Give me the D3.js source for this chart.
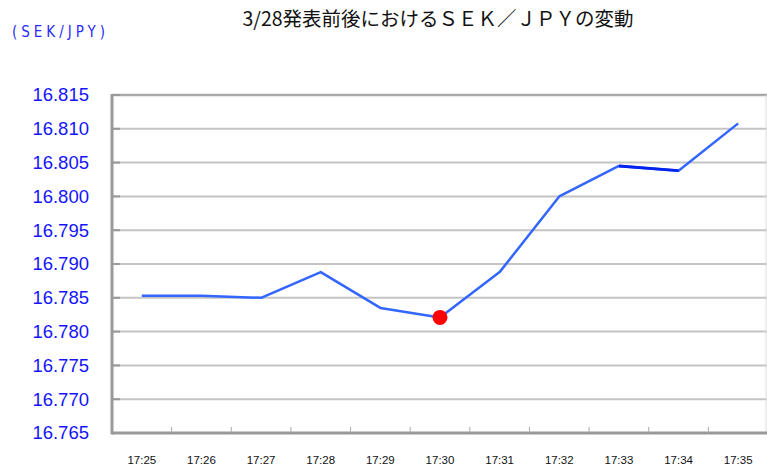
<!DOCTYPE html>
<html>
<head>
<meta charset="utf-8">
<style>
  body { margin: 0; background: #fff; }
  svg { display: block; }
</style>
<script src="https://d3js.org/d3.v7.min.js"></script>
</head>
<body>
<svg width="767" height="467"></svg>
<script>
// data
var times = ["17:25","17:26","17:27","17:28","17:29","17:30","17:31","17:32","17:33","17:34","17:35"];
var rates = [16.7853, 16.7853, 16.7850, 16.7888, 16.7835, 16.7821, 16.7888, 16.8000, 16.8045, 16.8038, 16.8108];
var yTicks = [16.765, 16.770, 16.775, 16.780, 16.785, 16.790, 16.795, 16.800, 16.805, 16.810, 16.815];
var markIndex = 5; // 17:30 announcement

var svg = d3.select("svg");
var plotL = 112, plotR = 768, plotT = 95, plotB = 433;

var x = d3.scaleBand().domain(times).range([plotL, plotR]);
var y = d3.scaleLinear().domain([16.765, 16.815]).range([plotB, plotT]);

// title
svg.append("text")
   .attr("x", 438).attr("y", 26)
   .attr("text-anchor", "middle")
   .attr("font-family", "Noto Sans CJK JP")
   .attr("font-size", "19.5px")
   .attr("fill", "#111")
   .text("3/28発表前後における\uFF33\uFF25\uFF2B\uFF0F\uFF2A\uFF30\uFF39の変動");

svg.append("text")
   .attr("x", 12).attr("y", 37)
   .attr("font-family", "Liberation Sans Narrow, DejaVu Sans Condensed, sans-serif")
   .attr("font-size", "15px")
   .attr("letter-spacing", "4px")
   .attr("fill", "#2a2aff")
   .text("(SEK/JPY)");

// grid lines
svg.selectAll(".grid")
   .data(yTicks.slice(1))
   .enter()
   .append("line")
   .attr("class", "grid")
   .attr("x1", plotL).attr("x2", plotR)
   .attr("y1", function(d){ return y(d); })
   .attr("y2", function(d){ return y(d); })
   .attr("stroke", function(d, i){ return i == yTicks.length - 2 ? "#a8a8a8" : "#c4c4c4"; })
   .attr("stroke-width", function(d, i){ return i == yTicks.length - 2 ? 2.5 : 2; });

// right edge
svg.append("line")
   .attr("x1", 766).attr("x2", 766)
   .attr("y1", plotT).attr("y2", plotB)
   .attr("stroke", "#dddddd").attr("stroke-width", 1);

// y axis
var yAxis = svg.append("g")
   .attr("transform", "translate(" + plotL + ",0)")
   .call(d3.axisLeft(y).tickValues(yTicks).tickFormat(d3.format(".3f")).tickSize(0).tickPadding(23));
yAxis.select(".domain").remove();
yAxis.selectAll("text")
   .attr("font-family", "Liberation Sans, Arial, sans-serif")
   .attr("font-size", "18.5px")
   .attr("fill", "#1414ff");

// small ticks inside the left axis
svg.selectAll(".ytick")
   .data(yTicks)
   .enter()
   .append("line")
   .attr("x1", plotL).attr("x2", plotL + 8)
   .attr("y1", function(d){ return y(d); })
   .attr("y2", function(d){ return y(d); })
   .attr("stroke", "#999").attr("stroke-width", 2);

// x axis
svg.append("line")
   .attr("x1", plotL).attr("x2", plotR)
   .attr("y1", plotB).attr("y2", plotB)
   .attr("stroke", "#999").attr("stroke-width", 3);

svg.selectAll(".xtick")
   .data(times.slice(1))
   .enter()
   .append("line")
   .attr("x1", function(d){ return x(d); })
   .attr("x2", function(d){ return x(d); })
   .attr("y1", plotB - 6).attr("y2", plotB)
   .attr("stroke", "#aaa").attr("stroke-width", 1);

svg.selectAll(".xlabel")
   .data(times)
   .enter()
   .append("text")
   .attr("x", function(d){ return x(d) + x.bandwidth() / 2; })
   .attr("y", 464)
   .attr("text-anchor", "middle")
   .attr("font-family", "Liberation Sans Narrow, Liberation Sans, sans-serif")
   .attr("font-size", "11.5px")
   .attr("fill", "#111")
   .text(function(d){ return d; });

// left axis line
svg.append("line")
   .attr("x1", plotL).attr("x2", plotL)
   .attr("y1", plotT - 1).attr("y2", plotB + 1.5)
   .attr("stroke", "#999").attr("stroke-width", 3);

// series
var line = d3.line()
   .x(function(d, i){ return x(times[i]) + x.bandwidth() / 2; })
   .y(function(d){ return y(d); });

svg.append("path")
   .datum(rates)
   .attr("d", line)
   .attr("fill", "none")
   .attr("stroke", "#3366ff")
   .attr("stroke-width", 2.5)
   .attr("stroke-linejoin", "round");

// darker segment 17:33-17:34
svg.append("path")
   .datum(rates.slice(8, 10))
   .attr("d", d3.line()
      .x(function(d, i){ return x(times[i + 8]) + x.bandwidth() / 2; })
      .y(function(d){ return y(d); }))
   .attr("fill", "none")
   .attr("stroke", "#0022ee")
   .attr("stroke-width", 2.8);

svg.append("circle")
   .attr("cx", x(times[markIndex]) + x.bandwidth() / 2)
   .attr("cy", y(rates[markIndex]))
   .attr("r", 7.5)
   .attr("fill", "#ff0000");
</script>
</body>
</html>
